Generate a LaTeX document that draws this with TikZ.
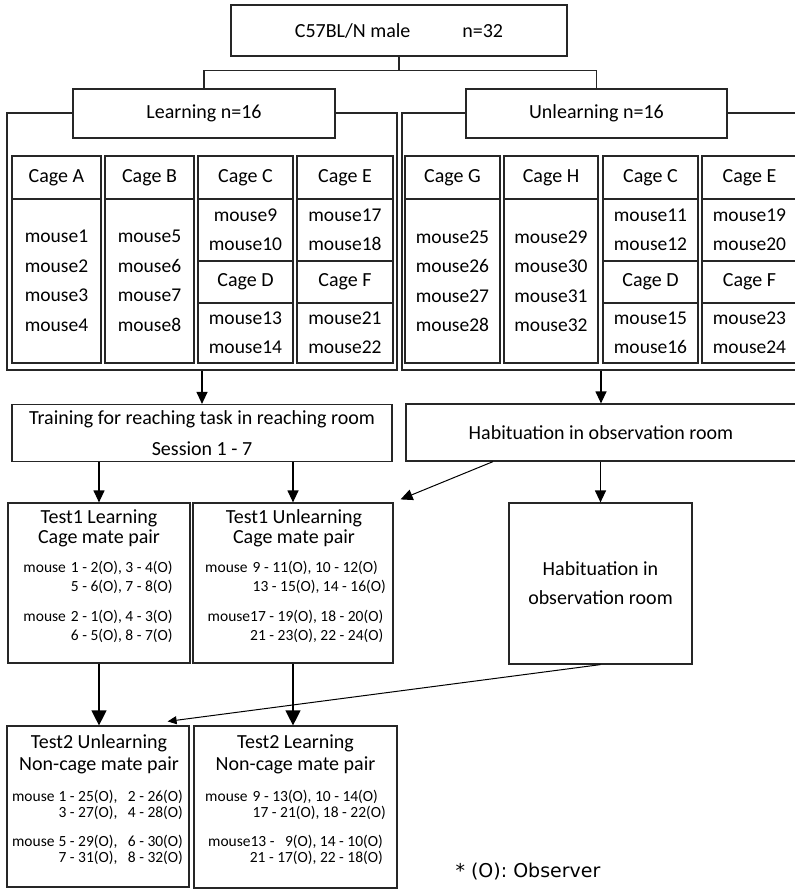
\documentclass[tikz,border=0pt]{standalone}
\usepackage{fontspec}
\setmainfont{Carlito}
\newfontfamily\notefont{DejaVu Sans}
\usetikzlibrary{%
  arrows.meta,%
  positioning% wg. " of "
}

\tikzset{
  box/.style={draw=black!85,line width=1.2pt,fill=white,rectangle,inner sep=0pt,align=center},
  frame/.style={draw=black!85,line width=1.2pt,rectangle,inner sep=0pt},
  cagehead/.style={box,minimum height=43pt},
  cagebody/.style={box,minimum height=164pt,font=\fontsize{19.5}{29.5}\selectfont},
  cagetxt/.style={font=\fontsize{19.5}{29}\selectfont},
  titletxt/.style={align=center,inner sep=0pt,font=\fontsize{20}{20}\selectfont},
  pairtxt/.style={inner sep=0pt,font=\fontsize{15.5}{19}\selectfont},
  pairtxtb/.style={inner sep=0pt,font=\fontsize{15.5}{15.5}\selectfont},
  bigtip/.style={-{Triangle[length=15pt,width=15pt]}},
  smalltip/.style={-{Triangle[length=9pt,width=8pt]}},
}

\begin{document}
\begin{tikzpicture}[
  x=1pt,y=-1pt,
  font=\fontsize{20}{24}\selectfont,
  >={Triangle[length=12pt,width=11pt]},
  line width=1.2pt,
]
\useasboundingbox (0,0) rectangle (795,889);
\clip (0,0) rectangle (795,889);

% groups
\node[box,minimum width=336pt,minimum height=51pt] (top) at (399,30.5) {C57BL/N male\hspace{2.6em}n=32};
\node[frame,minimum width=390pt,minimum height=257pt] (lframe) at (202,241.5) {};
\node[frame,minimum width=398pt,minimum height=257pt] (rframe) at (601,241.5) {};
\node[box,minimum width=262pt,minimum height=49pt] (learn) at (204,113.5) {Learning n=16};
\node[box,minimum width=261pt,minimum height=49pt] (unlearn) at (596.5,113.5) {Unlearning n=16};
\draw[draw=black!85] (top.south) -- ++(0,14) -| (learn.north);
\draw[draw=black!85] (top.south) -- ++(0,14) -| (unlearn.north);

% cages, learning
\node[cagehead,minimum width=89pt] (cageA) at (56.5,177.5) {Cage A};
\node[cagebody,minimum width=89pt] (cageAm) at (56.5,281) {mouse1\\mouse2\\mouse3\\mouse4};
\node[cagehead,minimum width=89pt] (cageB) at (149.5,177.5) {Cage B};
\node[cagebody,minimum width=89pt] (cageBm) at (149.5,281) {mouse5\\mouse6\\mouse7\\mouse8};
\node[cagehead,minimum width=95pt] (cageC) at (245.5,177.5) {Cage C};
\node[box,cagetxt,minimum width=95pt,minimum height=62pt] (cageCm) at (245.5,230) {mouse9\\mouse10};
\node[box,minimum width=95pt,minimum height=42pt] (cageD) at (245.5,282) {Cage D};
\node[box,cagetxt,minimum width=95pt,minimum height=60pt] (cageDm) at (245.5,333) {mouse13\\mouse14};
\node[cagehead,minimum width=96pt] (cageE) at (345,177.5) {Cage E};
\node[box,cagetxt,minimum width=96pt,minimum height=62pt] (cageEm) at (345,230) {mouse17\\mouse18};
\node[box,minimum width=96pt,minimum height=42pt] (cageF) at (345,282) {Cage F};
\node[box,cagetxt,minimum width=96pt,minimum height=60pt] (cageFm) at (345,333) {mouse21\\mouse22};

% cages, unlearning
\node[cagehead,minimum width=95pt] (cageG) at (452.5,177.5) {Cage G};
\node[cagebody,minimum width=95pt] (cageGm) at (452.5,281) {mouse25\\mouse26\\mouse27\\mouse28};
\node[cagehead,minimum width=94pt] (cageH) at (551,177.5) {Cage H};
\node[cagebody,minimum width=94pt] (cageHm) at (551,281) {mouse29\\mouse30\\mouse31\\mouse32};
\node[cagehead,minimum width=95pt] (cageUC) at (650.5,177.5) {Cage C};
\node[box,cagetxt,minimum width=95pt,minimum height=62pt] (cageUCm) at (650.5,230) {mouse11\\mouse12};
\node[box,minimum width=95pt,minimum height=42pt] (cageUD) at (650.5,282) {Cage D};
\node[box,cagetxt,minimum width=95pt,minimum height=60pt] (cageUDm) at (650.5,333) {mouse15\\mouse16};
\node[cagehead,minimum width=95pt] (cageUE) at (749.5,177.5) {Cage E};
\node[box,cagetxt,minimum width=95pt,minimum height=62pt] (cageUEm) at (749.5,230) {mouse19\\mouse20};
\node[box,minimum width=95pt,minimum height=42pt] (cageUF) at (749.5,282) {Cage F};
\node[box,cagetxt,minimum width=95pt,minimum height=60pt] (cageUFm) at (749.5,333) {mouse23\\mouse24};

% training / habituation
\node[box,minimum width=380pt,minimum height=57pt,font=\fontsize{20}{31}\selectfont] (train) at (202,433)
  {Training for reaching task in reaching room\\Session 1 - 7};
\node[box,minimum width=390pt,minimum height=57pt] (hab) at (601,432.5) {Habituation in observation room};
\node[box,minimum width=183pt,minimum height=161pt,font=\fontsize{20}{29}\selectfont] (hab2) at (600.5,583.5)
  {Habituation in\\observation room};

% test 1
\node[box,minimum width=182pt,minimum height=160pt] (t1l) at (99,583) {};
\node[box,minimum width=200pt,minimum height=160pt] (t1u) at (293,583) {};
\node[titletxt] (t1ltitle) at (99,528) {Test1 Learning\\Cage mate pair};
\node[pairtxt] (t1lpa) at (98,578.5) {\begin{tabular}{@{}l@{\hspace{5pt}}l@{}}mouse & 1 - 2(O), 3 - 4(O)\\ & 5 - 6(O), 7 - 8(O)\end{tabular}};
\node[pairtxt] (t1lpb) at (98,627) {\begin{tabular}{@{}l@{\hspace{5pt}}l@{}}mouse & 2 - 1(O), 4 - 3(O)\\ & 6 - 5(O), 8 - 7(O)\end{tabular}};
\node[titletxt] (t1utitle) at (294,528) {Test1 Unlearning\\Cage mate pair};
\node[pairtxt] (t1upa) at (295.5,578.5) {\begin{tabular}{@{}l@{\hspace{5pt}}l@{}}mouse & 9 - 11(O), 10 - 12(O)\\ & 13 - 15(O), 14 - 16(O)\end{tabular}};
\node[pairtxt] (t1upb) at (295.5,627) {\begin{tabular}{@{}l@{\hspace{4pt}}r@{}}\multicolumn{2}{@{}r@{}}{mouse17 - 19(O), 18 - 20(O)}\\ & 21 - 23(O), 22 - 24(O)\end{tabular}};

% test 2
\node[box,minimum width=182pt,minimum height=161pt] (t2u) at (98,806.5) {};
\node[box,minimum width=203pt,minimum height=162pt] (t2l) at (295.5,807) {};
\node[titletxt,font=\fontsize{20}{22}\selectfont] (t2utitle) at (99,754) {Test2 Unlearning\\Non-cage mate pair};
\node[pairtxtb] (t2upa) at (97.5,806.5) {\begin{tabular}{@{}l@{\hspace{4pt}}r@{}}mouse & 1 - 25(O),\ \ \ 2 - 26(O)\\ & 3 - 27(O),\ \ \ 4 - 28(O)\end{tabular}};
\node[pairtxtb] (t2upb) at (97.5,851.5) {\begin{tabular}{@{}l@{\hspace{4pt}}r@{}}mouse & 5 - 29(O),\ \ \ 6 - 30(O)\\ & 7 - 31(O),\ \ \ 8 - 32(O)\end{tabular}};
\node[titletxt,font=\fontsize{20}{22}\selectfont] (t2ltitle) at (295.5,754) {Test2 Learning\\Non-cage mate pair};
\node[pairtxtb] (t2lpa) at (295.5,806.5) {\begin{tabular}{@{}l@{\hspace{5pt}}l@{}}mouse & 9 - 13(O), 10 - 14(O)\\ & 17 - 21(O), 18 - 22(O)\end{tabular}};
\node[pairtxtb] (t2lpb) at (295.5,851.5) {\begin{tabular}{@{}l@{\hspace{4pt}}r@{}}\multicolumn{2}{@{}r@{}}{mouse13 -\ \ \ 9(O), 14 - 10(O)}\\ & 21 - 17(O), 22 - 18(O)\end{tabular}};

\node[font={\notefont\fontsize{19}{19}\selectfont}] (note) at (528,872) {* (O): Observer};

% arrows
\draw[->] (lframe.south) -- (train.north);
\draw[->] (rframe.south) -- (rframe.south |- hab.north);
\draw[->] (t1l.north |- train.south) -- (t1l.north);
\draw[->] (t1u.north |- train.south) -- (t1u.north);
\draw[->] (hab2.north |- hab.south) -- (hab2.north);
\draw[->,line width=1pt] ([xshift=-108pt]hab.south) -- ([xshift=7pt,yshift=3pt]t1u.north east);
\draw[bigtip] (t1l.south) -- (t1l.south |- t2u.north);
\draw[bigtip] (t1u.south) -- (t1u.south |- t2l.north);
\draw[smalltip,line width=1pt] (hab2.south) -- ([xshift=-22pt,yshift=4pt]t2u.north east);
\end{tikzpicture}
\end{document}
